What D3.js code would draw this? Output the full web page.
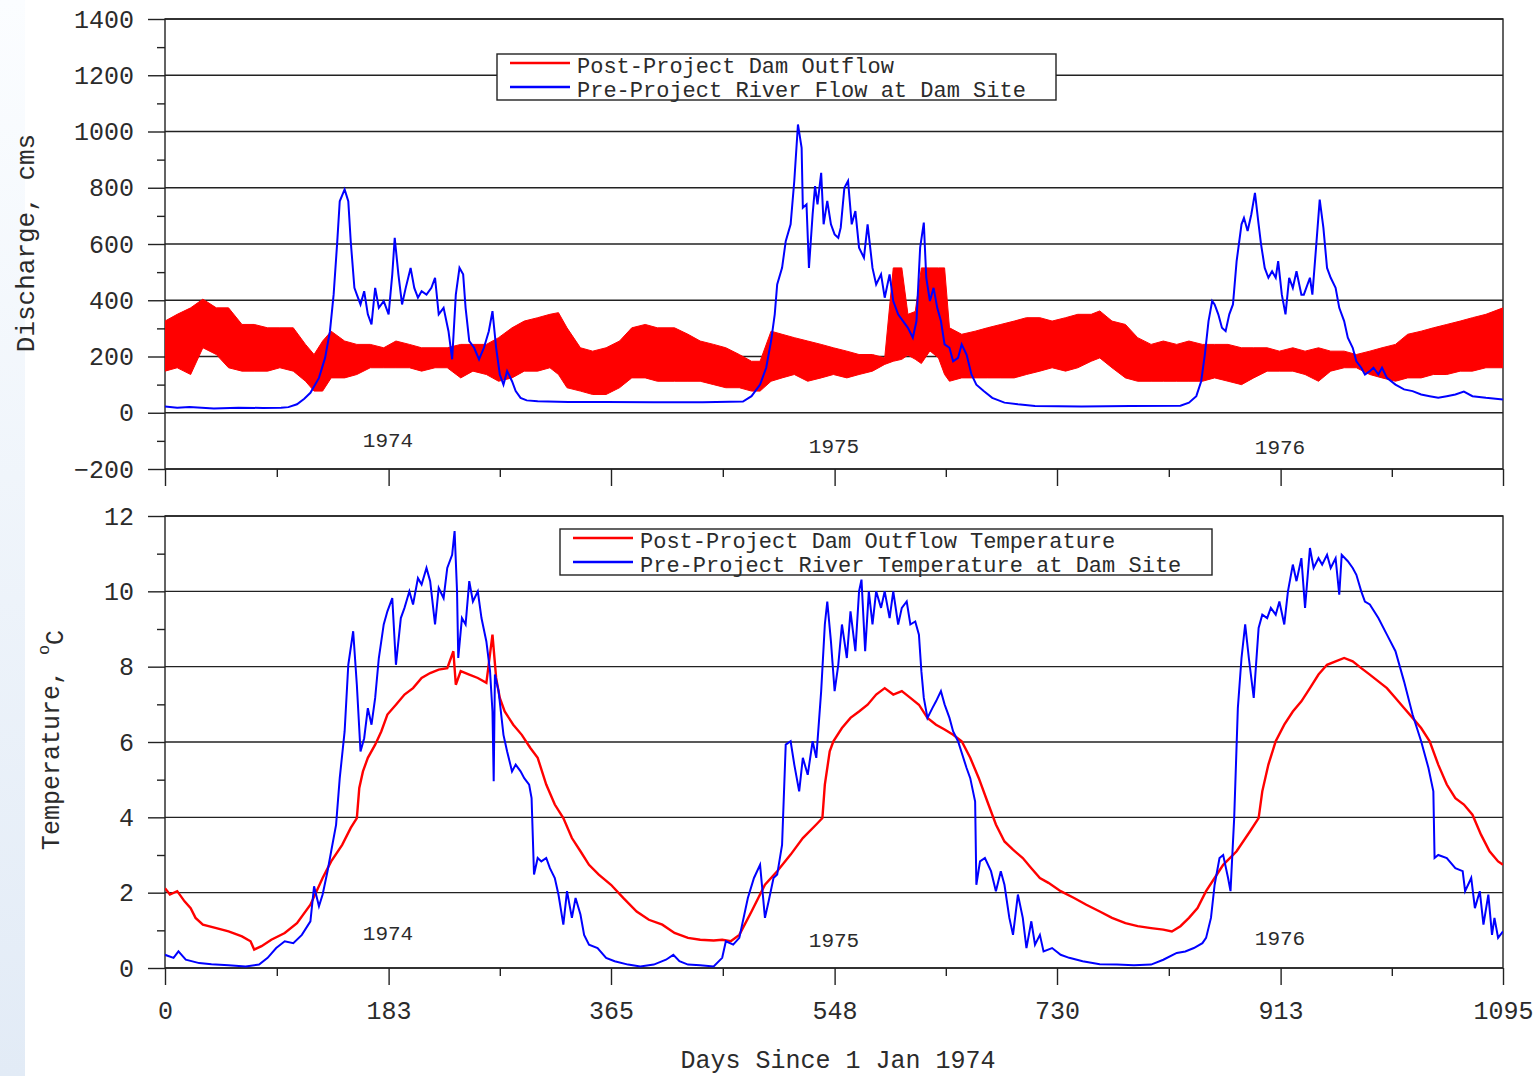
<!doctype html>
<html>
  <head>
    <meta charset="utf-8">
    <title>Dam outflow and temperature</title>
    <script src="https://d3js.org/d3.v7.min.js"></script>
    <style type="text/css">
      body { margin: 0; background-color: #ffffff; }
      text { font-family: "Liberation Mono", "DejaVu Sans Mono", monospace; fill: #2b2b2b; }
    </style>
  </head>
  <body>
    <script>
// ---- data ----
var xTicks = [0, 183, 365, 548, 730, 913, 1095];
var xMinor = [91.5, 274, 456.5, 639, 821.5, 1004];
var qTicks = [-200, 0, 200, 400, 600, 800, 1000, 1200, 1400];
var qMinor = [-100, 100, 300, 500, 700, 900, 1100, 1300];
var tTicks = [0, 2, 4, 6, 8, 10, 12];
var tMinor = [1, 3, 5, 7, 9, 11];
var years = ["1974", "1975", "1976"];

// post-project dam outflow, band of hourly swings (low / high envelope)
var outDays = [0,10,21,31,42,52,63,73,84,94,105,115,122,129,136,147,157,168,179,189,200,210,221,231,242,252,263,273,284,294,305,315,322,329,340,350,361,372,382,393,403,417,428,438,449,459,470,480,487,496,505,515,526,537,547,558,568,579,589,596,603,608,614,619,626,633,638,642,652,663,673,684,695,705,716,726,737,747,758,765,775,786,796,807,817,828,838,849,859,870,881,891,902,912,923,933,944,954,965,975,986,996,1007,1017,1028,1038,1049,1060,1070,1081,1095];
var outHigh = [326,350,373,404,373,373,314,314,302,302,302,243,207,255,290,255,243,243,231,255,243,231,231,231,243,243,243,267,302,326,338,350,356,302,231,219,231,255,302,314,302,302,279,255,243,231,207,183,183,290,279,267,255,243,231,219,207,207,195,515,515,350,360,515,515,515,515,302,279,290,302,314,326,338,338,326,338,350,350,362,326,314,267,243,255,243,255,243,243,243,231,231,231,219,231,219,231,219,219,207,219,231,243,279,290,302,314,326,338,350,373];
var outLow = [148,160,136,231,207,160,148,148,148,160,148,112,77,77,124,124,136,160,160,160,160,148,160,160,124,148,136,112,124,148,148,160,136,89,77,65,65,89,124,124,112,112,112,112,100,89,89,77,77,112,124,136,112,124,136,124,136,148,172,183,190,205,190,175,220,195,136,112,124,124,124,124,124,136,148,160,148,160,183,195,160,124,112,112,112,112,112,112,124,112,100,124,148,148,148,136,112,148,160,160,136,124,112,124,124,136,136,148,148,160,160];

// pre-project river flow at dam site
var flowDays = [0,10,20,40,60,80,95,101,108,114,119,126,131,135,138,141,143,147,150,152,155,157,160,163,166,169,172,175,179,183,186,188,191,194,197,201,204,207,210,214,218,221,224,228,232,235,238,241,244,246,249,253,257,261,265,268,271,274,277,280,284,287,291,296,305,330,360,400,440,473,480,487,492,496,499,501,505,508,512,515,518,521,522,525,527,530,532,534,537,539,542,545,548,551,553,556,559,562,565,568,572,575,579,582,586,589,593,596,600,604,608,612,615,618,621,623,626,629,632,635,638,642,645,649,652,656,660,664,670,677,687,698,712,750,790,831,838,844,848,851,854,857,859,862,865,868,871,874,877,881,883,886,889,892,895,897,900,903,906,909,911,914,917,920,923,926,930,932,937,939,942,945,948,951,954,958,961,965,968,972,975,979,982,986,989,993,996,1000,1007,1014,1021,1028,1035,1042,1049,1056,1063,1070,1081,1095];
var flowVals = [22,18,20,15,18,17,18,20,30,50,71,124,195,290,420,610,752,794,752,610,444,420,385,432,350,314,444,373,397,350,492,622,492,385,444,515,444,409,432,420,444,480,350,373,290,190,420,515,492,373,255,231,190,231,290,361,231,136,100,148,112,77,53,44,41,38,38,37,37,40,59,100,160,255,350,456,515,610,670,824,1025,942,729,741,515,705,806,741,853,670,753,670,634,622,658,800,824,670,717,587,551,670,515,456,492,409,492,397,350,326,302,267,326,587,676,480,397,444,373,326,243,231,183,195,243,207,136,100,77,53,36,30,24,22,24,25,36,59,112,207,326,397,385,350,302,290,350,385,539,670,693,646,705,782,670,599,515,480,503,480,539,420,350,480,444,503,420,420,480,420,587,758,658,515,480,444,373,326,267,231,183,160,136,148,160,136,160,124,100,83,77,65,59,53,59,65,75,59,53,47];

// post-project dam outflow temperature
var damTDays = [0,4,10,16,21,25,31,42,52,63,70,73,79,87,98,108,119,129,136,145,152,157,159,162,166,172,177,182,189,196,203,210,217,224,231,236,238,242,249,256,263,268,271,274,278,285,292,299,305,312,319,326,333,340,347,355,365,375,386,396,407,417,428,438,449,456,463,470,480,491,501,512,522,533,538,540,544,547,554,561,568,575,582,589,596,603,610,617,624,631,638,645,652,659,666,673,680,687,694,702,709,716,723,733,744,754,765,775,786,796,807,817,824,831,838,845,852,859,866,877,888,895,898,903,909,916,923,930,937,944,951,958,965,972,979,986,993,1000,1007,1014,1021,1028,1035,1042,1049,1056,1063,1070,1077,1084,1091,1095];
var damT = [2.12,1.95,2.04,1.77,1.59,1.33,1.15,1.06,0.97,0.84,0.71,0.49,0.58,0.75,0.93,1.19,1.68,2.39,2.83,3.27,3.72,3.98,4.78,5.22,5.58,5.93,6.28,6.73,6.99,7.26,7.43,7.7,7.83,7.92,7.96,8.41,7.52,7.88,7.79,7.7,7.57,8.85,7.7,7.17,6.81,6.46,6.19,5.84,5.58,4.87,4.34,3.98,3.45,3.1,2.74,2.48,2.21,1.86,1.5,1.28,1.15,0.93,0.8,0.75,0.73,0.75,0.71,0.88,1.5,2.21,2.57,3.01,3.45,3.81,3.98,4.87,5.75,6.02,6.37,6.64,6.81,6.99,7.26,7.43,7.26,7.35,7.17,6.99,6.64,6.46,6.33,6.19,6.02,5.58,5.04,4.42,3.81,3.36,3.14,2.92,2.65,2.39,2.26,2.04,1.86,1.68,1.5,1.33,1.19,1.11,1.06,1.02,0.97,1.11,1.33,1.59,2.04,2.39,2.74,3.1,3.63,3.98,4.69,5.4,6.02,6.46,6.81,7.08,7.43,7.79,8.05,8.14,8.23,8.14,7.96,7.79,7.61,7.43,7.17,6.9,6.64,6.37,6.02,5.4,4.87,4.51,4.34,4.07,3.54,3.1,2.83,2.74];

// pre-project river temperature at dam site
var rivTDays = [0,7,11,17,28,38,52,66,77,84,91,98,105,112,119,122,126,129,133,136,140,143,147,150,154,157,160,163,166,169,172,175,179,182,186,189,193,196,200,203,207,210,214,217,221,224,228,231,235,237,239,240,243,246,249,252,256,259,263,266,268,269,270,273,277,280,284,287,291,294,298,300,302,305,308,312,315,319,322,326,329,333,336,340,343,347,354,361,368,379,389,400,410,416,421,428,438,449,456,459,465,470,477,482,487,491,494,498,501,505,508,512,515,519,522,526,530,533,537,540,542,545,548,551,554,558,561,565,568,570,573,576,579,582,586,589,593,596,600,603,607,610,614,617,619,621,624,628,631,635,638,642,645,649,656,659,663,664,667,671,676,680,684,687,691,694,698,702,705,709,712,716,719,726,733,740,751,765,779,793,807,817,828,835,842,849,852,856,859,863,866,870,872,875,878,881,884,887,891,895,898,902,905,909,912,916,919,923,926,930,933,937,940,944,947,951,954,958,961,963,968,972,975,979,982,986,993,1000,1007,1014,1021,1028,1034,1038,1039,1042,1049,1056,1062,1064,1069,1072,1076,1079,1083,1086,1088,1091,1095];
var rivT = [0.35,0.27,0.44,0.22,0.13,0.1,0.07,0.04,0.09,0.27,0.53,0.71,0.66,0.88,1.24,2.17,1.64,1.95,2.57,3.1,3.8,5.04,6.28,8.05,8.94,7.52,5.75,6.1,6.9,6.46,7.17,8.23,9.12,9.47,9.82,8.05,9.29,9.56,10.0,9.65,10.35,10.18,10.62,10.27,9.12,10.09,9.82,10.62,10.97,11.6,10.0,8.23,9.29,9.12,10.27,9.73,10.0,9.29,8.67,7.88,6.81,4.96,7.79,7.35,6.19,5.75,5.22,5.4,5.22,5.04,4.87,4.51,2.48,2.92,2.83,2.92,2.65,2.39,1.95,1.15,2.04,1.33,1.86,1.42,0.88,0.62,0.53,0.27,0.18,0.09,0.04,0.09,0.22,0.35,0.18,0.09,0.07,0.04,0.27,0.71,0.62,0.8,1.86,2.39,2.74,1.33,1.77,2.39,2.48,3.27,5.93,6.02,5.4,4.69,5.58,5.13,6.02,5.58,7.35,9.12,9.73,8.67,7.35,8.05,9.12,8.23,9.47,8.41,10.0,10.31,8.41,10.0,9.12,10.0,9.56,10.0,9.29,10.0,9.12,9.56,9.73,9.12,9.2,8.85,7.88,7.17,6.64,6.9,7.08,7.35,7.0,6.64,6.28,6.02,5.31,5.04,4.42,2.21,2.83,2.92,2.57,2.04,2.57,2.21,1.33,0.88,1.95,1.33,0.53,1.24,0.62,0.88,0.44,0.53,0.35,0.27,0.18,0.1,0.09,0.07,0.09,0.22,0.4,0.44,0.53,0.66,0.8,1.33,2.21,2.92,3.0,2.39,2.04,3.98,6.9,8.23,9.12,8.23,7.17,9.03,9.38,9.29,9.56,9.38,9.73,9.12,10.0,10.71,10.27,10.88,9.56,11.15,10.62,10.88,10.71,10.97,10.62,10.88,9.91,10.97,10.8,10.62,10.44,10.0,9.73,9.65,9.29,8.85,8.41,7.61,6.73,6.02,5.31,4.69,2.92,3.0,2.92,2.65,2.57,2.04,2.39,1.59,2.04,1.15,1.95,0.88,1.33,0.8,0.97];

var W = 1539, H = 1076;
var svg = d3.select("body").append("svg").attr("width", W).attr("height", H);

// pale strip on the left edge
var grad = svg.append("defs").append("linearGradient").attr("id", "strip")
  .attr("x1", 0).attr("y1", 0).attr("x2", 0).attr("y2", 1);
grad.append("stop").attr("offset", "0").attr("stop-color", "#fbfdff");
grad.append("stop").attr("offset", "1").attr("stop-color", "#e2ebf6");
svg.append("rect").attr("x", 0).attr("y", 0).attr("width", 25).attr("height", H).attr("fill", "url(#strip)");

var L = 165, R = 1503;
var x = d3.scaleLinear().domain([0, 1095]).range([L, R]);
var yQ = d3.scaleLinear().domain([-200, 1400]).range([469, 19]);
var yT = d3.scaleLinear().domain([0, 12]).range([968, 516]);

svg.append("clipPath").attr("id", "clipQ").append("rect")
  .attr("x", L).attr("y", 19).attr("width", R - L).attr("height", 450);
svg.append("clipPath").attr("id", "clipT").append("rect")
  .attr("x", L).attr("y", 516).attr("width", R - L).attr("height", 452);

function panel(y, major, minor, top, bottom, showX) {
  var g = svg.append("g");
  // grid lines
  g.selectAll(".grid").data(major).enter().append("line")
    .attr("x1", L).attr("x2", R).attr("y1", d => y(d)).attr("y2", d => y(d))
    .attr("stroke", "#222").attr("stroke-width", 1.4);
  var ay = g.append("g").attr("transform", "translate(" + L + ",0)")
    .call(d3.axisLeft(y).tickValues(major).tickSize(17).tickPadding(14).tickFormat(d3.format("d")));
  ay.select(".domain").remove();
  ay.selectAll("line").attr("stroke", "#222").attr("stroke-width", 1.4);
  ay.selectAll("text").style("font-size", "25px").attr("fill", "#2b2b2b");
  var am = g.append("g").attr("transform", "translate(" + L + ",0)")
    .call(d3.axisLeft(y).tickValues(minor).tickSize(8).tickFormat(""));
  am.select(".domain").remove();
  am.selectAll("line").attr("stroke", "#222").attr("stroke-width", 1.4);

  var ax = g.append("g").attr("transform", "translate(0," + bottom + ")")
    .call(d3.axisBottom(x).tickValues(xTicks).tickSize(17).tickPadding(16).tickFormat(showX ? d3.format("d") : ""));
  ax.select(".domain").remove();
  ax.selectAll("line").attr("stroke", "#222").attr("stroke-width", 1.4);
  ax.selectAll("text").style("font-size", "25px").attr("fill", "#2b2b2b");
  var axm = g.append("g").attr("transform", "translate(0," + bottom + ")")
    .call(d3.axisBottom(x).tickValues(xMinor).tickSize(8).tickFormat(""));
  axm.select(".domain").remove();
  axm.selectAll("line").attr("stroke", "#222").attr("stroke-width", 1.4);

  g.append("rect").attr("x", L).attr("y", top).attr("width", R - L).attr("height", bottom - top)
    .attr("fill", "none").attr("stroke", "#222").attr("stroke-width", 1.4);
  return g;
}

panel(yQ, qTicks, qMinor, 19, 469, false);
panel(yT, tTicks, tMinor, 516, 968, true);

// ---- discharge panel ----
var band = outDays.map((d, i) => ({d: d, lo: outLow[i], hi: outHigh[i]}));
svg.append("path").datum(band).attr("clip-path", "url(#clipQ)")
  .attr("fill", "#ff0000").attr("stroke", "#ff0000").attr("stroke-width", 1)
  .attr("d", d3.area().x(p => x(p.d)).y0(p => yQ(p.lo)).y1(p => yQ(p.hi)));

svg.append("path").datum(flowDays.map((d, i) => [d, flowVals[i]])).attr("clip-path", "url(#clipQ)")
  .attr("fill", "none").attr("stroke", "#0000ff").attr("stroke-width", 2)
  .attr("d", d3.line().x(p => x(p[0])).y(p => yQ(p[1])));

// ---- temperature panel ----
svg.append("path").datum(damTDays.map((d, i) => [d, damT[i]])).attr("clip-path", "url(#clipT)")
  .attr("fill", "none").attr("stroke", "#ff0000").attr("stroke-width", 2.4)
  .attr("d", d3.line().x(p => x(p[0])).y(p => yT(p[1])));

svg.append("path").datum(rivTDays.map((d, i) => [d, rivT[i]])).attr("clip-path", "url(#clipT)")
  .attr("fill", "none").attr("stroke", "#0000ff").attr("stroke-width", 2)
  .attr("d", d3.line().x(p => x(p[0])).y(p => yT(p[1])));

// year labels
var topShift = [440, 446, 447], botShift = [933, 940, 938];
years.forEach(function(yr, i) {
  var cx = x(182.5 + 365 * i);
  svg.append("text").attr("x", cx).attr("y", topShift[i]).attr("text-anchor", "middle")
    .attr("dy", "0.35em").style("font-size", "21px").text(yr);
  svg.append("text").attr("x", cx).attr("y", botShift[i]).attr("text-anchor", "middle")
    .attr("dy", "0.35em").style("font-size", "21px").text(yr);
});

// legends
function legend(x0, y0, w, items) {
  var g = svg.append("g");
  g.append("rect").attr("x", x0).attr("y", y0).attr("width", w).attr("height", 46)
    .attr("fill", "#fff").attr("stroke", "#222").attr("stroke-width", 1.4);
  items.forEach(function(it, i) {
    var yy = y0 + 10 + i * 24;
    g.append("line").attr("x1", x0 + 13).attr("x2", x0 + 73).attr("y1", yy - 1).attr("y2", yy - 1)
      .attr("stroke", it.c).attr("stroke-width", 2.5);
    g.append("text").attr("x", x0 + 80).attr("y", yy + 2).attr("dy", "0.32em")
      .style("font-size", "22px").text(it.t);
  });
}
legend(497, 54, 559, [{t: "Post-Project Dam Outflow", c: "#ff0000"}, {t: "Pre-Project River Flow at Dam Site", c: "#0000ff"}]);
legend(560, 529, 652, [{t: "Post-Project Dam Outflow Temperature", c: "#ff0000"}, {t: "Pre-Project River Temperature at Dam Site", c: "#0000ff"}]);

// axis titles
svg.append("text").attr("transform", "translate(25,243) rotate(-90)").attr("text-anchor", "middle")
  .attr("dy", "0.35em").style("font-size", "26px").text("Discharge, cms");
var tt = svg.append("text").attr("transform", "translate(50,740) rotate(-90)").attr("text-anchor", "middle")
  .attr("dy", "0.35em").style("font-size", "25px");
tt.append("tspan").text("Temperature, ");
tt.append("tspan").attr("dy", "-0.55em").style("font-size", "17px").text("o");
tt.append("tspan").attr("dy", "0.55em").text("C");
svg.append("text").attr("x", 838).attr("y", 1059).attr("text-anchor", "middle")
  .attr("dy", "0.35em").style("font-size", "25px").text("Days Since 1 Jan 1974");
    </script>
  </body>
</html>
